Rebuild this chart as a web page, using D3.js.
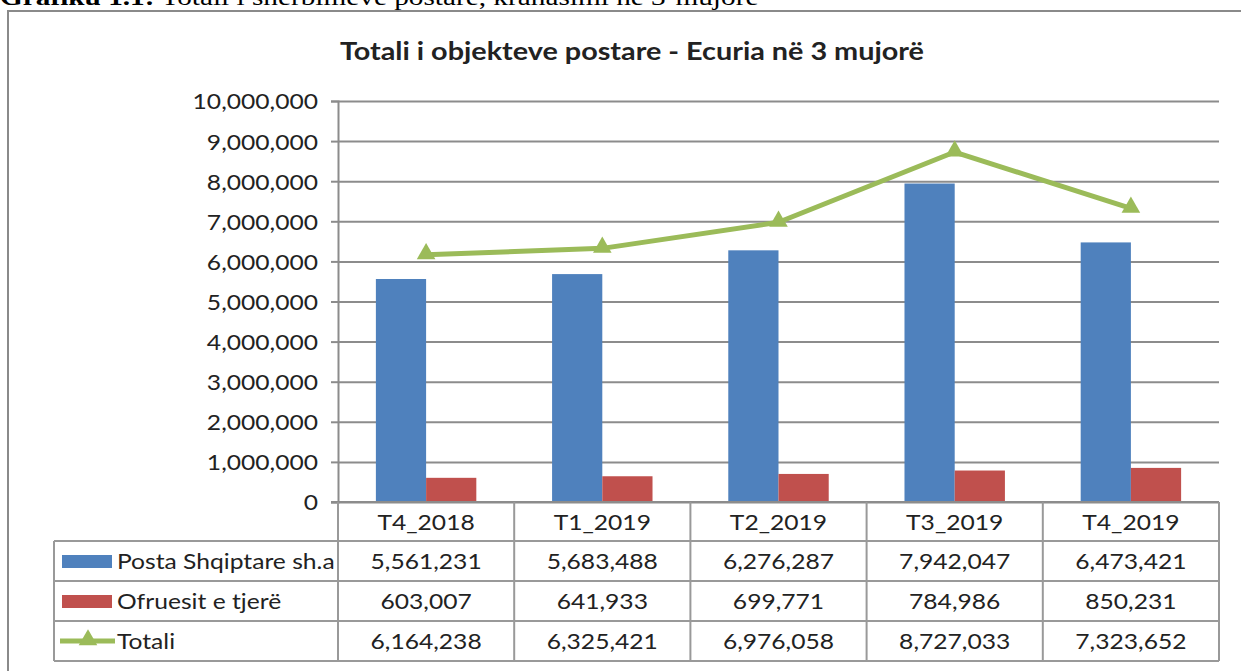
<!DOCTYPE html>
<html>
<head>
<meta charset="utf-8">
<script src="https://cdn.jsdelivr.net/npm/d3@7"></script>
<style>
  body { margin: 0; background: #fff; }
  text { font-family: Lato, "Noto Sans", sans-serif; fill: #222; }
</style>
</head>
<body>
<svg id="chart" width="1241" height="671"></svg>
<script>
var categories = ["T4_2018", "T1_2019", "T2_2019", "T3_2019", "T4_2019"];
var postaValues = [5561231, 5683488, 6276287, 7942047, 6473421];
var ofruesitValues = [603007, 641933, 699771, 784986, 850231];
var totaliValues = [6164238, 6325421, 6976058, 8727033, 7323652];
var seriesNames = ["Posta Shqiptare sh.a", "Ofruesit e tjerë", "Totali"];
var yTicks = [0, 1000000, 2000000, 3000000, 4000000, 5000000, 6000000, 7000000, 8000000, 9000000, 10000000];

var blue = "#4f81bd", red = "#c0504d", green = "#9bbb59", gridColor = "#8c8c8c";

var svg = d3.select("#chart");

// widen text around its own x, the reference font is wider than Lato
function stretch(sel, s) {
  sel.each(function() {
    var t = d3.select(this);
    var tx = +t.attr("x") || 0;
    t.attr("transform", "translate(" + (tx * (1 - s)) + ",0) scale(" + s + ",1)");
  });
}

// caption of the page, cut off at the top
var cap = svg.append("text")
  .attr("x", 0).attr("y", 5)
  .style("font-family", "'Liberation Serif', serif")
  .style("font-size", "24px")
  .style("fill", "#000");
cap.append("tspan").style("font-weight", "bold").text("Grafiku 1.1:");
cap.append("tspan").text(" Totali i shërbimeve postare, krahasimi në 3-mujorë");
stretch(cap, 1.22);

// outer frame
svg.append("rect")
  .attr("x", 8).attr("y", 11)
  .attr("width", 1260).attr("height", 700)
  .style("fill", "none").style("stroke", "#8a8a8a").style("stroke-width", 2);

var title = svg.append("text")
  .attr("x", 632).attr("y", 60)
  .attr("text-anchor", "middle")
  .style("font-size", "24px").style("font-weight", "bold")
  .text("Totali i objekteve postare - Ecuria në 3 mujorë");
stretch(title, 1.2);

var plotLeft = 338, plotRight = 1219, plotTop = 101, plotBottom = 502;

var x = d3.scaleBand().domain(categories).range([plotLeft, plotRight]).paddingInner(0.43).paddingOuter(0.215);
var xc = d3.scaleBand().domain(categories).range([plotLeft, plotRight]);
var y = d3.scaleLinear().domain([0, 10000000]).range([plotBottom, plotTop]);

// gridlines
svg.append("g")
  .attr("transform", "translate(" + plotLeft + ",0)")
  .call(d3.axisLeft(y).tickValues(yTicks).tickSize(-(plotRight - plotLeft)).tickFormat(""))
  .call(function(g) { g.select(".domain").remove(); })
  .selectAll("line").style("stroke", gridColor).style("stroke-width", 2);

// y axis with labels
var yAxis = svg.append("g")
  .attr("transform", "translate(" + plotLeft + ",0)")
  .call(d3.axisLeft(y).tickValues(yTicks).tickSize(7).tickPadding(13).tickFormat(d3.format(",")));
yAxis.select(".domain").style("stroke", gridColor).style("stroke-width", 2);
yAxis.selectAll("line").style("stroke", gridColor).style("stroke-width", 2);
yAxis.selectAll("text").style("font-size", "22px").style("font-family", "Lato, sans-serif").style("fill", "#222")
  .attr("dy", "0.36em")
  .call(stretch, 1.12);

var bw = x.bandwidth() / 2;

svg.append("g").selectAll("rect")
  .data(postaValues).enter().append("rect")
  .attr("x", function(d, i) { return x(categories[i]); })
  .attr("y", function(d) { return y(d); })
  .attr("width", bw)
  .attr("height", function(d) { return plotBottom - y(d); })
  .style("fill", blue);

svg.append("g").selectAll("rect")
  .data(ofruesitValues).enter().append("rect")
  .attr("x", function(d, i) { return x(categories[i]) + bw; })
  .attr("y", function(d) { return y(d); })
  .attr("width", bw)
  .attr("height", function(d) { return plotBottom - y(d); })
  .style("fill", red);

// x axis line
svg.append("line")
  .attr("x1", plotLeft - 7).attr("x2", plotRight)
  .attr("y1", plotBottom).attr("y2", plotBottom)
  .style("stroke", gridColor).style("stroke-width", 2);

// totali line
var cx = function(i) { return xc(categories[i]) + xc.bandwidth() / 2; };
var line = d3.line()
  .x(function(d, i) { return cx(i); })
  .y(function(d) { return y(d); });

svg.append("path")
  .datum(totaliValues)
  .attr("d", line)
  .style("fill", "none").style("stroke", green).style("stroke-width", 5)
  .style("stroke-linejoin", "round");

var tri = d3.symbol().type(d3.symbolTriangle).size(150);
svg.append("g").selectAll("path")
  .data(totaliValues).enter().append("path")
  .attr("d", tri)
  .attr("transform", function(d, i) { return "translate(" + cx(i) + "," + (y(d) - 1) + ")"; })
  .style("fill", green);

// data table
var rowTop = 541, rowH = 40, tableLeft = 54;
var tableColor = "#999";
var table = svg.append("g");

// column lines, from the axis down through the table
table.selectAll(".catline")
  .data(d3.range(categories.length + 1)).enter().append("line")
  .attr("x1", function(i) { return i < categories.length ? xc(categories[i]) : plotRight; })
  .attr("x2", function(i) { return i < categories.length ? xc(categories[i]) : plotRight; })
  .attr("y1", plotBottom).attr("y2", rowTop + rowH * 3)
  .style("stroke", tableColor).style("stroke-width", 2);

table.selectAll(".catlabel")
  .data(categories).enter().append("text")
  .attr("x", function(d, i) { return cx(i); })
  .attr("y", plotBottom + 28)
  .attr("text-anchor", "middle")
  .style("font-size", "22px")
  .text(function(d) { return d; })
  .call(stretch, 1.12);

// horizontal rules
table.selectAll(".hline")
  .data([0, 1, 2, 3]).enter().append("line")
  .attr("x1", tableLeft).attr("x2", plotRight)
  .attr("y1", function(r) { return rowTop + r * rowH; })
  .attr("y2", function(r) { return rowTop + r * rowH; })
  .style("stroke", tableColor).style("stroke-width", 2);

table.append("line")
  .attr("x1", tableLeft).attr("x2", tableLeft)
  .attr("y1", rowTop).attr("y2", rowTop + rowH * 3)
  .style("stroke", tableColor).style("stroke-width", 2);

var rows = [postaValues, ofruesitValues, totaliValues];
var fmt = d3.format(",");
rows.forEach(function(vals, r) {
  var ry = rowTop + r * rowH;
  table.selectAll(".val" + r)
    .data(vals).enter().append("text")
    .attr("x", function(d, i) { return cx(i); })
    .attr("y", ry + 28)
    .attr("text-anchor", "middle")
    .style("font-size", "22px")
    .text(function(d) { return fmt(d); })
    .call(stretch, 1.12);

  table.append("text")
    .attr("x", 117).attr("y", ry + 28)
    .style("font-size", "22px")
    .text(seriesNames[r])
    .call(stretch, 1.12);
});

// legend keys
table.append("rect").attr("x", 62).attr("y", rowTop + 14).attr("width", 50).attr("height", 13).style("fill", blue);
table.append("rect").attr("x", 62).attr("y", rowTop + rowH + 14).attr("width", 50).attr("height", 13).style("fill", red);
table.append("line")
  .attr("x1", 60).attr("x2", 115)
  .attr("y1", rowTop + 2 * rowH + 20).attr("y2", rowTop + 2 * rowH + 20)
  .style("stroke", green).style("stroke-width", 5);
table.append("path")
  .attr("d", tri)
  .attr("transform", "translate(88," + (rowTop + 2 * rowH + 19) + ")")
  .style("fill", green);
</script>
</body>
</html>
